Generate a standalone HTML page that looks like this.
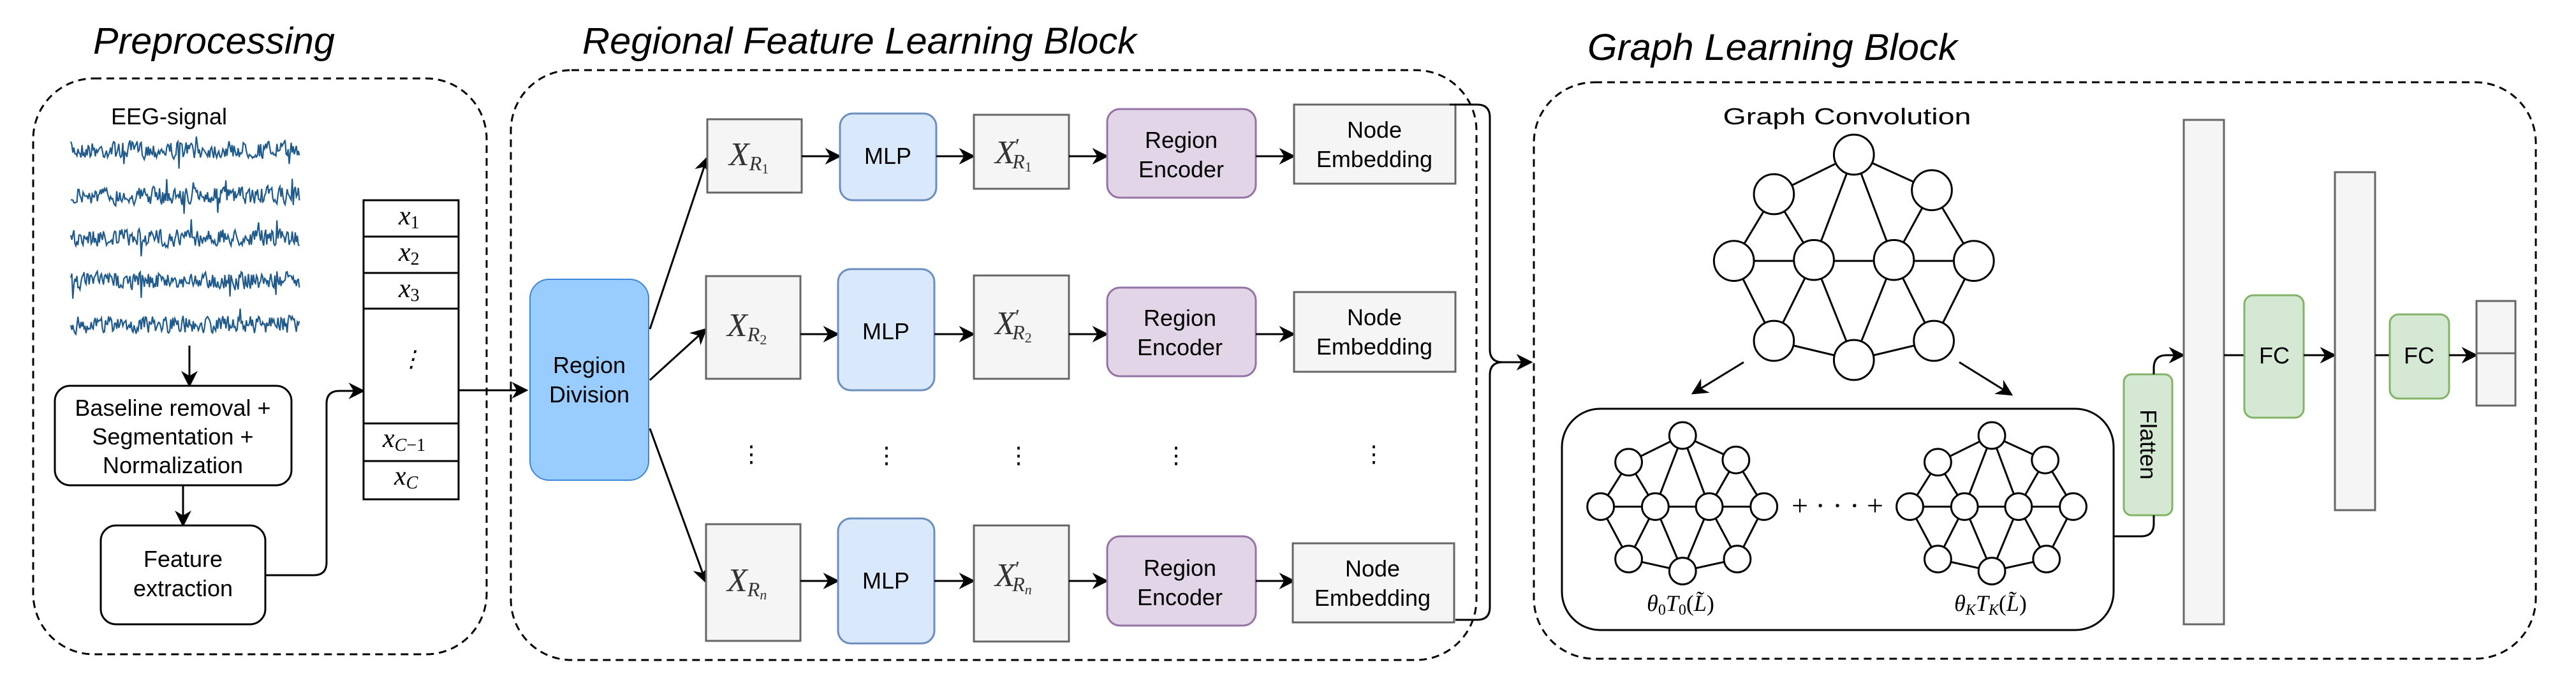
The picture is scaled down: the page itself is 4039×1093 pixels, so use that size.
<!DOCTYPE html>
<html><head><meta charset="utf-8"><style>
html,body{margin:0;padding:0;background:#fff;}
svg{display:block;}
.t{font-family:"Liberation Sans",sans-serif;font-size:36px;fill:#000;text-anchor:middle;}
.ti{font-family:"Liberation Sans",sans-serif;font-style:italic;font-size:58px;fill:#000;}
.m{font-family:"Liberation Serif",serif;font-style:italic;fill:#333;}
.mb{font-family:"Liberation Serif",serif;font-style:italic;fill:#000;}
.d{fill:none;stroke:#000;stroke-width:3;stroke-dasharray:12 8;}
.l{fill:none;stroke:#000;stroke-width:3;}
.la{fill:none;stroke:#000;stroke-width:3;marker-end:url(#a);}
.gray{fill:#f5f5f5;stroke:#666;stroke-width:3;}
.blue{fill:#dae8fc;stroke:#6c8ebf;stroke-width:3;}
.pur{fill:#e1d5e7;stroke:#9673a6;stroke-width:3;}
.grn{fill:#d5e8d4;stroke:#82b366;stroke-width:3;}
.wb{fill:#fff;stroke:#000;stroke-width:3;}
.g line{stroke:#000;stroke-width:3;vector-effect:non-scaling-stroke;}
.g ellipse{fill:#fff;stroke:#000;stroke-width:3;vector-effect:non-scaling-stroke;}
</style></head><body>
<svg width="4039" height="1093" viewBox="0 0 4039 1093" xmlns="http://www.w3.org/2000/svg">
<defs>
<marker id="a" viewBox="0 0 20 20" refX="18" refY="10" markerWidth="26" markerHeight="26" markerUnits="userSpaceOnUse" orient="auto">
<path d="M0,0 L20,10 L0,20 L6,10 Z" fill="#000"/>
</marker>
</defs>

<!-- Titles -->
<text class="ti" x="146" y="84" textLength="379" lengthAdjust="spacingAndGlyphs">Preprocessing</text>
<text class="ti" x="913" y="84" textLength="869" lengthAdjust="spacingAndGlyphs">Regional Feature Learning Block</text>
<text class="ti" x="2489" y="94" textLength="580" lengthAdjust="spacingAndGlyphs">Graph Learning Block</text>

<!-- Dashed containers -->
<rect class="d" x="52" y="123" width="711" height="903" rx="95"/>
<rect class="d" x="801" y="110" width="1514" height="925" rx="95"/>
<rect class="d" x="2405" y="129" width="1571" height="904" rx="95"/>

<!-- Preprocessing -->
<text class="t" x="265" y="195">EEG-signal</text>
<g id="eeg" fill="none" stroke="#1f5a8c" stroke-width="2.2"></g>
<line class="la" x1="297" y1="542" x2="297" y2="605"/>
<rect class="wb" x="86" y="605" width="371" height="156" rx="24"/>
<text class="t" x="271" y="652">Baseline removal +</text>
<text class="t" x="271" y="697">Segmentation +</text>
<text class="t" x="271" y="742">Normalization</text>
<line class="la" x1="287" y1="761" x2="287" y2="824"/>
<rect class="wb" x="158" y="824" width="258" height="155" rx="24"/>
<text class="t" x="287" y="889">Feature</text>
<text class="t" x="287" y="935">extraction</text>
<path class="la" d="M416,902 L492,902 Q512,902 512,882 L512,633 Q512,613 532,613 L570,613"/>

<!-- Vector table -->
<rect x="570" y="314" width="149" height="469" fill="#fff" stroke="#000" stroke-width="3"/>
<line class="l" x1="570" y1="371" x2="719" y2="371"/>
<line class="l" x1="570" y1="428" x2="719" y2="428"/>
<line class="l" x1="570" y1="484" x2="719" y2="484"/>
<line class="l" x1="570" y1="664" x2="719" y2="664"/>
<line class="l" x1="570" y1="723" x2="719" y2="723"/>
<text class="mb" x="625" y="352" font-size="42">x<tspan font-style="normal" font-size="28" dy="6">1</tspan></text>
<text class="mb" x="625" y="409" font-size="42">x<tspan font-style="normal" font-size="28" dy="6">2</tspan></text>
<text class="mb" x="625" y="466" font-size="42">x<tspan font-style="normal" font-size="28" dy="6">3</tspan></text>
<text class="mb" x="645" y="575" font-size="36" text-anchor="middle">⋮</text>
<text class="mb" x="600" y="701" font-size="42">x<tspan font-size="28" dy="6">C</tspan><tspan font-style="normal" font-size="28">−1</tspan></text>
<text class="mb" x="618" y="760" font-size="42">x<tspan font-size="28" dy="6">C</tspan></text>
<line class="la" x1="719" y1="612" x2="826" y2="612"/>

<!-- Region division -->
<rect x="831" y="438" width="186" height="315" rx="30" fill="#99ccff" stroke="#3d86d8" stroke-width="2"/>
<text class="t" x="924" y="585">Region</text>
<text class="t" x="924" y="631">Division</text>
<line class="la" x1="1019" y1="516" x2="1109" y2="247"/>
<line class="la" x1="1019" y1="596" x2="1107" y2="516"/>
<line class="la" x1="1019" y1="672" x2="1107" y2="913"/>

<!-- row1 -->
<rect class="gray" x="1109" y="187" width="148" height="115"/>
<text class="m" x="1143" y="259" font-size="52">X<tspan font-size="32" dy="8">R</tspan><tspan font-style="normal" font-size="22" dy="5">1</tspan></text>
<line class="la" x1="1257" y1="245" x2="1317" y2="245"/>
<rect class="blue" x="1317" y="178" width="151" height="136" rx="20"/>
<text class="t" x="1392" y="257">MLP</text>
<line class="la" x1="1468" y1="245" x2="1527" y2="245"/>
<rect class="gray" x="1527" y="180" width="149" height="116"/>
<text class="m" x="1560" y="256" font-size="52">X<tspan font-style="normal" font-size="34" dy="-16">′</tspan><tspan font-size="32" dx="-12" dy="24">R</tspan><tspan font-style="normal" font-size="22" dy="5">1</tspan></text>
<line class="la" x1="1676" y1="245" x2="1736" y2="245"/>
<rect class="pur" x="1736" y="171" width="233" height="139" rx="20"/>
<text class="t" x="1852" y="232">Region</text>
<text class="t" x="1852" y="278">Encoder</text>
<line class="la" x1="1969" y1="245" x2="2029" y2="245"/>
<rect class="gray" x="2029" y="164" width="253" height="124"/>
<text class="t" x="2155" y="216" fill="#333">Node</text>
<text class="t" x="2155" y="262" fill="#333">Embedding</text>

<!-- row2 -->
<rect class="gray" x="1107" y="433" width="148" height="161"/>
<text class="m" x="1140" y="527" font-size="52">X<tspan font-size="32" dy="8">R</tspan><tspan font-style="normal" font-size="22" dy="5">2</tspan></text>
<line class="la" x1="1255" y1="524" x2="1314" y2="524"/>
<rect class="blue" x="1314" y="422" width="151" height="190" rx="20"/>
<text class="t" x="1389" y="532">MLP</text>
<line class="la" x1="1465" y1="524" x2="1527" y2="524"/>
<rect class="gray" x="1527" y="432" width="149" height="162"/>
<text class="m" x="1560" y="524" font-size="52">X<tspan font-style="normal" font-size="34" dy="-16">′</tspan><tspan font-size="32" dx="-12" dy="24">R</tspan><tspan font-style="normal" font-size="22" dy="5">2</tspan></text>
<line class="la" x1="1676" y1="524" x2="1736" y2="524"/>
<rect class="pur" x="1736" y="451" width="233" height="139" rx="20"/>
<text class="t" x="1850" y="511">Region</text>
<text class="t" x="1850" y="557">Encoder</text>
<line class="la" x1="1969" y1="524" x2="2029" y2="524"/>
<rect class="gray" x="2029" y="458" width="253" height="125"/>
<text class="t" x="2155" y="510" fill="#333">Node</text>
<text class="t" x="2155" y="556" fill="#333">Embedding</text>

<!-- dots row -->
<g class="t" font-size="32">
<text x="1178" y="724">⋮</text><text x="1390" y="726">⋮</text><text x="1597" y="726">⋮</text><text x="1844" y="726">⋮</text><text x="2154" y="724">⋮</text>
</g>

<!-- row3 -->
<rect class="gray" x="1107" y="822" width="148" height="183"/>
<text class="m" x="1140" y="927" font-size="52">X<tspan font-size="32" dy="8">R</tspan><tspan font-size="22" dy="5">n</tspan></text>
<line class="la" x1="1255" y1="911" x2="1314" y2="911"/>
<rect class="blue" x="1314" y="813" width="151" height="196" rx="20"/>
<text class="t" x="1389" y="923">MLP</text>
<line class="la" x1="1465" y1="911" x2="1527" y2="911"/>
<rect class="gray" x="1527" y="824" width="149" height="182"/>
<text class="m" x="1560" y="919" font-size="52">X<tspan font-style="normal" font-size="34" dy="-16">′</tspan><tspan font-size="32" dx="-12" dy="24">R</tspan><tspan font-size="22" dy="5">n</tspan></text>
<line class="la" x1="1676" y1="911" x2="1736" y2="911"/>
<rect class="pur" x="1736" y="841" width="233" height="140" rx="20"/>
<text class="t" x="1850" y="903">Region</text>
<text class="t" x="1850" y="949">Encoder</text>
<line class="la" x1="1969" y1="911" x2="2029" y2="911"/>
<rect class="gray" x="2027" y="852" width="253" height="124"/>
<text class="t" x="2152" y="904" fill="#333">Node</text>
<text class="t" x="2152" y="950" fill="#333">Embedding</text>

<!-- brace connector -->
<path class="l" d="M2273,164 L2316,164 Q2336,164 2336,184 L2336,548 Q2336,568 2356,568"/>
<path class="l" d="M2282,972 L2316,972 Q2336,972 2336,952 L2336,588 Q2336,568 2356,568"/>
<line class="la" x1="2350" y1="568" x2="2401" y2="568"/>

<!-- Graph block -->
<text class="t" x="2896" y="195" textLength="389" lengthAdjust="spacingAndGlyphs">Graph Convolution</text>
<g class="g" transform="translate(2400,0) scale(1.0449,0.6969)">
<line x1="485" y1="348" x2="365" y2="437"/><line x1="485" y1="348" x2="602" y2="428"/>
<line x1="485" y1="348" x2="425" y2="585"/><line x1="485" y1="348" x2="545" y2="585"/>
<line x1="365" y1="437" x2="305" y2="587"/><line x1="365" y1="437" x2="425" y2="585"/>
<line x1="602" y1="428" x2="545" y2="585"/><line x1="602" y1="428" x2="665" y2="587"/>
<line x1="305" y1="587" x2="665" y2="587"/>
<line x1="305" y1="587" x2="365" y2="767"/><line x1="425" y1="585" x2="365" y2="767"/>
<line x1="425" y1="585" x2="485" y2="810"/><line x1="545" y1="585" x2="485" y2="810"/>
<line x1="545" y1="585" x2="605" y2="767"/><line x1="665" y1="587" x2="605" y2="767"/>
<line x1="365" y1="767" x2="485" y2="810"/><line x1="485" y1="810" x2="605" y2="767"/>
<ellipse cx="485" cy="348" rx="30" ry="45"/><ellipse cx="365" cy="437" rx="30" ry="45"/>
<ellipse cx="602" cy="428" rx="30" ry="45"/><ellipse cx="305" cy="587" rx="30" ry="45"/>
<ellipse cx="425" cy="585" rx="30" ry="45"/><ellipse cx="545" cy="585" rx="30" ry="45"/>
<ellipse cx="665" cy="587" rx="30" ry="45"/><ellipse cx="365" cy="767" rx="30" ry="45"/>
<ellipse cx="485" cy="810" rx="30" ry="45"/><ellipse cx="605" cy="767" rx="30" ry="45"/>
</g>
<line class="la" x1="2734" y1="568" x2="2654" y2="617"/>
<line class="la" x1="3072" y1="568" x2="3154" y2="619"/>
<rect class="wb" x="2449" y="641" width="865" height="347" rx="60"/>
<g class="g" transform="translate(2400,0) scale(1.0449,0.6969)">
<g id="sg1">
<line x1="228" y1="980" x2="147" y2="1040"/><line x1="228" y1="980" x2="308" y2="1035"/>
<line x1="228" y1="980" x2="187" y2="1140"/><line x1="228" y1="980" x2="268" y2="1140"/>
<line x1="147" y1="1040" x2="105" y2="1140"/><line x1="147" y1="1040" x2="187" y2="1140"/>
<line x1="308" y1="1035" x2="268" y2="1140"/><line x1="308" y1="1035" x2="350" y2="1140"/>
<line x1="105" y1="1140" x2="350" y2="1140"/>
<line x1="105" y1="1140" x2="147" y2="1258"/><line x1="187" y1="1140" x2="147" y2="1258"/>
<line x1="187" y1="1140" x2="228" y2="1285"/><line x1="268" y1="1140" x2="228" y2="1285"/>
<line x1="268" y1="1140" x2="310" y2="1258"/><line x1="350" y1="1140" x2="310" y2="1258"/>
<line x1="147" y1="1258" x2="228" y2="1285"/><line x1="228" y1="1285" x2="310" y2="1258"/>
<ellipse cx="228" cy="980" rx="20" ry="30"/><ellipse cx="147" cy="1040" rx="20" ry="30"/>
<ellipse cx="308" cy="1035" rx="20" ry="30"/><ellipse cx="105" cy="1140" rx="20" ry="30"/>
<ellipse cx="187" cy="1140" rx="20" ry="30"/><ellipse cx="268" cy="1140" rx="20" ry="30"/>
<ellipse cx="350" cy="1140" rx="20" ry="30"/><ellipse cx="147" cy="1258" rx="20" ry="30"/>
<ellipse cx="228" cy="1285" rx="20" ry="30"/><ellipse cx="310" cy="1258" rx="20" ry="30"/>
</g>
<g transform="translate(464,0)">
<line x1="228" y1="980" x2="147" y2="1040"/><line x1="228" y1="980" x2="308" y2="1035"/>
<line x1="228" y1="980" x2="187" y2="1140"/><line x1="228" y1="980" x2="268" y2="1140"/>
<line x1="147" y1="1040" x2="105" y2="1140"/><line x1="147" y1="1040" x2="187" y2="1140"/>
<line x1="308" y1="1035" x2="268" y2="1140"/><line x1="308" y1="1035" x2="350" y2="1140"/>
<line x1="105" y1="1140" x2="350" y2="1140"/>
<line x1="105" y1="1140" x2="147" y2="1258"/><line x1="187" y1="1140" x2="147" y2="1258"/>
<line x1="187" y1="1140" x2="228" y2="1285"/><line x1="268" y1="1140" x2="228" y2="1285"/>
<line x1="268" y1="1140" x2="310" y2="1258"/><line x1="350" y1="1140" x2="310" y2="1258"/>
<line x1="147" y1="1258" x2="228" y2="1285"/><line x1="228" y1="1285" x2="310" y2="1258"/>
<ellipse cx="228" cy="980" rx="20" ry="30"/><ellipse cx="147" cy="1040" rx="20" ry="30"/>
<ellipse cx="308" cy="1035" rx="20" ry="30"/><ellipse cx="105" cy="1140" rx="20" ry="30"/>
<ellipse cx="187" cy="1140" rx="20" ry="30"/><ellipse cx="268" cy="1140" rx="20" ry="30"/>
<ellipse cx="350" cy="1140" rx="20" ry="30"/><ellipse cx="147" cy="1258" rx="20" ry="30"/>
<ellipse cx="228" cy="1285" rx="20" ry="30"/><ellipse cx="310" cy="1258" rx="20" ry="30"/>
</g>
</g>
<text class="mb" x="2635" y="958" font-size="36" text-anchor="middle">θ<tspan font-style="normal" font-size="24" dy="6">0</tspan><tspan dy="-6">T</tspan><tspan font-style="normal" font-size="24" dy="6">0</tspan><tspan font-style="normal" dy="-6">(</tspan>L̃<tspan font-style="normal">)</tspan></text>
<text class="mb" x="3121" y="958" font-size="36" text-anchor="middle">θ<tspan font-size="24" dy="6">K</tspan><tspan dy="-6">T</tspan><tspan font-size="24" dy="6">K</tspan><tspan font-style="normal" dy="-6">(</tspan>L̃<tspan font-style="normal">)</tspan></text>
<text x="2881" y="808" font-family="Liberation Serif,serif" font-size="46" text-anchor="middle" fill="#000">+ · · · +</text>

<!-- Flatten -->
<rect class="grn" x="3330" y="587" width="76" height="221" rx="12"/>
<text class="t" transform="translate(3356,697) rotate(90)" x="0" y="0" style="text-anchor:middle">Flatten</text>
<path class="l" d="M3314,841 L3357,841 Q3377,841 3377,821 L3377,808"/>
<path class="la" d="M3377,587 L3377,577 Q3377,557 3397,557 L3424,557"/>

<rect class="gray" x="3424" y="188" width="63" height="791"/>
<line class="l" x1="3487" y1="557" x2="3519" y2="557"/>
<rect class="grn" x="3519" y="463" width="93" height="192" rx="14"/>
<text class="t" x="3566" y="570">FC</text>
<line class="la" x1="3612" y1="557" x2="3661" y2="557"/>
<rect class="gray" x="3661" y="270" width="63" height="530"/>
<line class="l" x1="3724" y1="557" x2="3747" y2="557"/>
<rect class="grn" x="3747" y="493" width="93" height="132" rx="14"/>
<text class="t" x="3793" y="570">FC</text>
<line class="la" x1="3840" y1="557" x2="3883" y2="557"/>
<rect class="gray" x="3883" y="472" width="61" height="164"/>
<line x1="3883" y1="554" x2="3944" y2="554" stroke="#666" stroke-width="3"/>
</svg>
<script>
(function(){
var g=document.getElementById('eeg');
var rows=[235,307,373,440,509];
var seed=7;function r(){seed=(seed*16807)%2147483647;return seed/2147483647;}
rows.forEach(function(y0,k){
  var d='';var v=0;
  for(var x=111;x<=471;x+=1.6){
    v=v*0.2+(r()-0.5)*26;
    var y=y0+v;
    if(r()<0.015){y=y0+(r()<0.5?-1:1)*(20+r()*10);}
    d+=(d?'L':'M')+x.toFixed(1)+','+y.toFixed(1);
  }
  var p=document.createElementNS('http://www.w3.org/2000/svg','path');
  p.setAttribute('d',d);g.appendChild(p);
});
})();
</script>
</body></html>
